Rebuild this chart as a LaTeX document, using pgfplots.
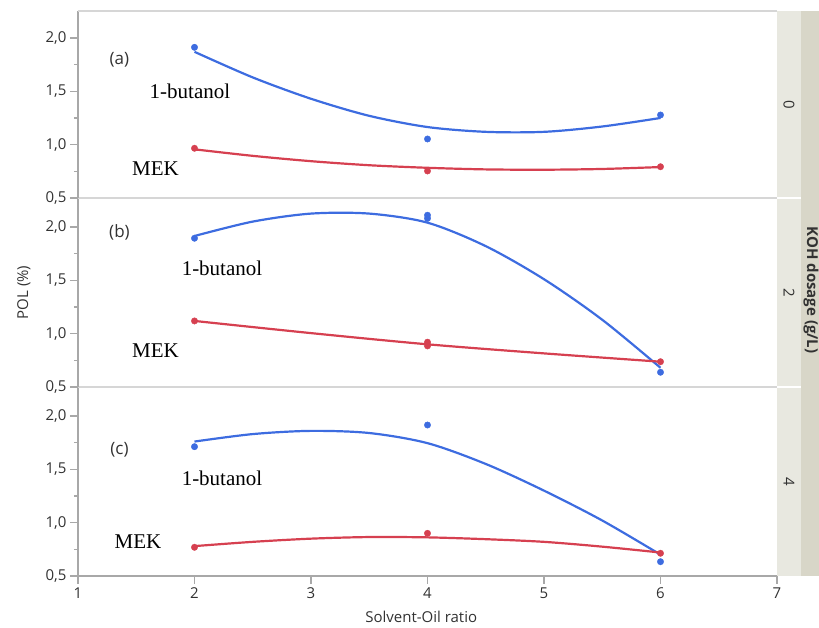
\documentclass[border=0pt]{standalone}
\usepackage{fontspec}
\setmainfont{Open Sans}
\newfontfamily\serif{Liberation Serif}
\usepackage{pgfplots}
\pgfplotsset{compat=1.18}

\definecolor{jblue}{RGB}{61,108,224}
\definecolor{jred}{RGB}{214,64,80}
\definecolor{axgray}{RGB}{168,168,168}
\definecolor{sepgray}{RGB}{214,214,214}
\definecolor{ticktxt}{RGB}{50,50,50}
\definecolor{stripin}{RGB}{232,232,224}
\definecolor{stripout}{RGB}{216,214,200}

\pgfkeys{/pgf/number format/assume math mode=true}

\tikzset{
  lab/.style={font=\fontsize{17}{20}\selectfont, text=ticktxt},
  sol/.style={font=\serif\fontsize{21}{24}\selectfont},
}

\pgfplotsset{
  panel/.style={
    scale only axis, width=699pt, height=189pt,
    xmin=1, xmax=7, ymin=0.5, ymax=2.2713,
    axis x line*=bottom, axis y line*=left,
    x axis line style={-, draw=sepgray, line width=1.5pt},
    y axis line style={-, draw=axgray, line width=1.5pt},
    tick style={draw=axgray, line width=1.2pt},
    tick align=outside,
    major tick length=8pt, minor tick length=4pt,
    ytick={0.5,1,1.5,2}, minor ytick={0.75,1.25,1.75},
    ytick pos=left,
    xtick=\empty,
    ticklabel style={font=\fontsize{15}{18}\selectfont, text=ticktxt},
    yticklabel style={/pgf/number format/.cd, fixed, fixed zerofill, precision=1, use comma},
    clip=false,
  },
  fit/.style={line width=2.2pt, smooth},
  pts/.style={only marks, mark=*, mark size=3.2pt},
}

\begin{document}
\begin{tikzpicture}
\path[use as bounding box] (-78pt,-52pt) rectangle (741pt,576pt);

% (c) KOH 4 g/L
\begin{axis}[panel, at={(0pt,0pt)},
  x axis line style={-, draw=axgray, line width=1.5pt},
  xtick={1,2,3,4,5,6,7}, xtick pos=bottom,
  xlabel={Solvent-Oil ratio},
  xlabel style={font=\fontsize{15}{18}\selectfont, text=ticktxt, at={(axis description cs:0.491,0)}, anchor=center, yshift=-41pt},
]
\addplot[jblue, fit] coordinates {(2,1.76)(2.5,1.83)(3,1.86)(3.5,1.84)(4,1.745)(4.5,1.55)(5,1.30)(5.5,1.02)(6,0.70)};
\addplot[jred, fit] coordinates {(2,0.78)(2.5,0.82)(3,0.85)(3.5,0.865)(4,0.862)(4.5,0.845)(5,0.82)(5.5,0.775)(6,0.72)};
\addplot[jblue, pts] coordinates {(2,1.712)(4,1.915)(6,0.634)};
\addplot[jred, pts] coordinates {(2,0.769)(4,0.90)(6,0.713)};
\node[lab] at (axis cs:1.356,1.681) {(c)};
\node[sol] at (axis cs:2.236,1.418) {1-butanol};
\node[sol] at (axis cs:1.515,0.819) {MEK};
\end{axis}

% (b) KOH 2 g/L
\begin{axis}[panel, at={(0pt,189pt)},
  ylabel={POL (\%)},
  ylabel style={font=\fontsize{15}{18}\selectfont, text=ticktxt, at={(axis description cs:-0.0773,0.5)}, anchor=center},
]
\addplot[jblue, fit] coordinates {(2,1.915)(2.5,2.05)(3,2.125)(3.5,2.125)(4,2.04)(4.5,1.82)(5,1.51)(5.5,1.13)(6,0.68)};
\addplot[jred, fit] coordinates {(2,1.119)(3,1.005)(4,0.90)(5,0.815)(6,0.737)};
\addplot[jblue, pts] coordinates {(2,1.894)(4,2.11)(4,2.08)(6,0.638)};
\addplot[jred, pts] coordinates {(2,1.119)(4,0.92)(4,0.885)(6,0.737)};
\node[lab] at (axis cs:1.356,1.953) {(b)};
\node[sol] at (axis cs:2.236,1.615) {1-butanol};
\node[sol] at (axis cs:1.665,0.837) {MEK};
\end{axis}

% (a) KOH 0 g/L
\begin{axis}[panel, at={(0pt,378pt)}, height=187pt, ymax=2.2526]
\addplot[jblue, fit] coordinates {(2,1.87)(2.5,1.63)(3,1.43)(3.5,1.27)(4,1.165)(4.5,1.12)(5,1.12)(5.5,1.17)(6,1.25)};
\addplot[jred, fit] coordinates {(2,0.956)(2.5,0.895)(3,0.845)(3.5,0.807)(4,0.783)(4.5,0.768)(5,0.765)(5.5,0.772)(6,0.79)};
\addplot[jblue, pts] coordinates {(2,1.912)(4,1.053)(6,1.278)};
\addplot[jred, pts] coordinates {(2,0.966)(4,0.753)(6,0.793)};
\node[lab] at (axis cs:1.356,1.796) {(a)};
\node[sol] at (axis cs:1.961,1.50) {1-butanol};
\node[sol] at (axis cs:1.665,0.772) {MEK};
\draw[sepgray, line width=2pt] (rel axis cs:0,1) -- (rel axis cs:1,1);
\end{axis}

% strip on the right
\fill[stripout] (723pt,0pt) rectangle (741pt,565pt);
\fill[stripin] (699pt,0pt) rectangle (723pt,565pt);
\draw[white, line width=1.5pt] (699pt,189pt) -- (723pt,189pt);
\draw[white, line width=1.5pt] (699pt,378pt) -- (723pt,378pt);
\node[rotate=-90, font=\fontsize{15}{18}\selectfont, text=ticktxt] at (711pt,94.5pt) {4};
\node[rotate=-90, font=\fontsize{15}{18}\selectfont, text=ticktxt] at (711pt,283.5pt) {2};
\node[rotate=-90, font=\fontsize{15}{18}\selectfont, text=ticktxt] at (711pt,471.5pt) {0};
\node[rotate=-90, font=\bfseries\fontsize{15}{18}\selectfont, text=ticktxt] at (733pt,286pt) {KOH dosage (g/L)};
\end{tikzpicture}
\end{document}
